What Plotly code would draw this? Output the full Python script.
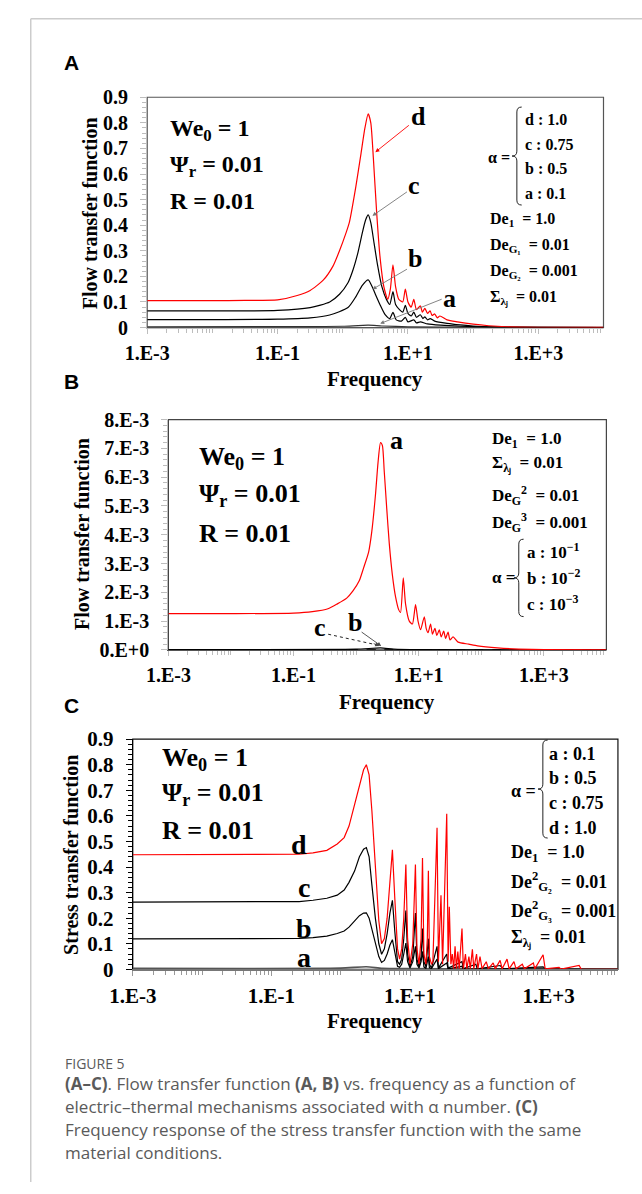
import plotly.graph_objects as go

# ---------------- DATA ----------------
# Panel A: flow transfer function, alpha = 0.1 (a), 0.5 (b), 0.75 (c), 1.0 (d)
A_d_freq = [0.001, 0.01, 0.0316, 0.1, 0.2, 0.316, 0.501, 0.708, 0.891, 1.122, 1.259, 1.585, 1.905, 2.188, 2.455,
            2.692, 2.951, 3.311, 3.715, 4.266, 4.898, 5.370, 5.888, 6.457, 7.244, 8.318, 9.120, 10, 11.22, 12.30,
            13.49, 15.49, 16.60, 18.20, 19.95, 21.88, 23.44, 25.70, 28.18, 30.90, 39.81, 57.54, 100, 173.8, 316.2,
            1000, 10000]
A_d_val = [0.105, 0.105, 0.106, 0.108, 0.125, 0.145, 0.185, 0.24, 0.30, 0.37, 0.41, 0.55, 0.68, 0.78, 0.835,
           0.80, 0.66, 0.45, 0.28, 0.16, 0.11, 0.15, 0.245, 0.16, 0.11, 0.10, 0.15, 0.10, 0.08, 0.11,
           0.07, 0.085, 0.06, 0.075, 0.055, 0.065, 0.047, 0.053, 0.038, 0.045, 0.03, 0.022, 0.013, 0.007, 0.003,
           0.001, 0.0005]
A_c_freq = [0.001, 0.1, 0.316, 0.631, 0.891, 1.202, 1.413, 1.698, 1.995, 2.239, 2.455, 2.692, 3.020, 3.388, 3.981,
            4.677, 5.248, 5.888, 6.457, 7.413, 8.318, 9.120, 10, 11.22, 12.30, 13.49, 15.49, 16.98, 18.20, 19.95,
            21.88, 25.70, 39.81, 63.10, 100, 199.5, 1000, 10000]
A_c_val = [0.065, 0.067, 0.078, 0.10, 0.13, 0.175, 0.22, 0.29, 0.37, 0.42, 0.44, 0.41, 0.33, 0.25, 0.16,
           0.11, 0.09, 0.14, 0.09, 0.07, 0.06, 0.087, 0.055, 0.045, 0.06, 0.04, 0.05, 0.035, 0.042, 0.03,
           0.035, 0.025, 0.016, 0.01, 0.006, 0.003, 0.0008, 0.0003]
A_b_freq = [0.001, 0.1, 0.316, 0.631, 1.202, 1.585, 1.995, 2.455, 2.818, 3.162, 3.715, 4.467, 5.248, 5.888, 6.607,
            7.943, 9.120, 10, 12.30, 13.49, 15.49, 19.95, 31.62, 63.10, 158.5, 1000, 10000]
A_b_val = [0.031, 0.033, 0.038, 0.049, 0.078, 0.12, 0.165, 0.186, 0.16, 0.13, 0.09, 0.05, 0.035, 0.059, 0.03,
           0.025, 0.04, 0.022, 0.03, 0.018, 0.022, 0.014, 0.009, 0.005, 0.002, 0.0005, 0.0002]
A_a_freq = [0.001, 0.316, 1, 2.455, 3.981, 10, 100, 10000]
A_a_val = [0.003, 0.0035, 0.005, 0.009, 0.006, 0.003, 0.001, 0.0]

# Panel B: flow transfer function, alpha = 1e-1 (a), 1e-2 (b), 1e-3 (c)
B_a_freq = [0.001, 0.01, 0.1, 0.2, 0.355, 0.501, 0.708, 0.891, 1.122, 1.318, 1.585, 1.778, 2.042, 2.239, 2.455,
            2.630, 2.818, 3.090, 3.388, 3.802, 4.266, 4.786, 5.129, 5.675, 6.166, 7.079, 7.943, 8.913, 9.772, 10.72,
            12.30, 13.18, 14.13, 15.49, 16.60, 18.20, 19.50, 21.38, 22.91, 25.12, 26.92, 29.51, 31.62, 35.48, 42.66,
            63.10, 87.10, 182.0, 398.1, 1000, 10000]
B_a_val = [1.26e-3, 1.26e-3, 1.28e-3, 1.33e-3, 1.43e-3, 1.6e-3, 1.8e-3, 2.05e-3, 2.4e-3, 2.85e-3, 3.4e-3, 4.1e-3,
           5.4e-3, 6.5e-3, 7.2e-3, 7.1e-3, 6.2e-3, 4.9e-3, 3.7e-3, 2.6e-3, 1.85e-3, 1.4e-3, 1.3e-3, 2.5e-3, 1.6e-3,
           1.0e-3, 0.9e-3, 1.57e-3, 1.0e-3, 0.7e-3, 1.15e-3, 0.75e-3, 0.6e-3, 0.9e-3, 0.55e-3, 0.75e-3, 0.5e-3,
           0.7e-3, 0.45e-3, 0.65e-3, 0.4e-3, 0.62e-3, 0.35e-3, 0.45e-3, 0.27e-3, 0.2e-3, 0.14e-3, 0.07e-3, 0.03e-3,
           0.01e-3, 0.0]
B_b_freq = [0.001, 1, 2.455, 3.981, 10, 10000]
B_b_val = [1.5e-5, 2.5e-5, 7e-5, 3e-5, 1e-5, 0.0]
B_c_freq = [0.001, 2.455, 10000]
B_c_val = [2e-6, 6e-6, 0.0]

# Panel C: stress transfer function, alpha = 0.1 (a), 0.5 (b), 0.75 (c), 1.0 (d)
C_d_freq = [0.001, 0.1, 0.251, 0.398, 0.631, 0.891, 1.122, 1.318, 1.585, 1.862,
            2.138, 2.344, 2.570, 2.818, 3.162, 3.548, 3.890, 4.266, 4.677, 5.129,
            5.572, 6.026, 6.607, 7.079, 7.586, 8.128, 8.710, 9.226, 10.0, 10.96,
            11.97, 12.59, 13.49, 14.45, 15.14, 15.85, 16.98, 17.78, 18.41, 19.05,
            20.42, 21.38, 24.55, 25.70, 27.99, 29.51, 33.88, 35.48, 36.90, 38.90,
            40.74, 42.66, 44.67, 46.77, 48.98, 51.29, 56.23, 58.88, 63.10, 66.07,
            70.79, 74.13, 79.43, 83.18, 91.20, 95.50, 102.3, 109.6, 125.9, 134.9,
            158.5, 169.8, 199.5, 213.8, 251.2, 269.2, 316.2, 338.8, 416.9, 446.7,
            602.6, 631.0, 831.8, 891.3, 1413, 1514, 2754, 2951, 10000]
C_d_val = [0.448, 0.448, 0.45, 0.455, 0.465, 0.49, 0.515, 0.56, 0.64, 0.72,
           0.78, 0.80, 0.76, 0.62, 0.38, 0.19, 0.10, 0.12, 0.2, 0.34,
           0.467, 0.28, 0.08, 0.04, 0.08, 0.2, 0.41, 0.12, 0.02, 0.1,
           0.41, 0.08, 0.02, 0.12, 0.435, 0.06, 0.02, 0.12, 0.385, 0.05,
           0.02, 0.03, 0.553, 0.03, 0.29, 0.02, 0.608, 0.03, 0.245, 0.02,
           0.06, 0.003, 0.09, 0.003, 0.07, 0.003, 0.16, 0.003, 0.06, 0.003,
           0.05, 0.003, 0.078, 0.003, 0.06, 0.003, 0.05, 0.003, 0.03, 0.002,
           0.025, 0.002, 0.035, 0.002, 0.04, 0.002, 0.03, 0.002, 0.02, 0.002,
           0.025, 0.002, 0.057, 0.002, 0.008, 0.001, 0.015, 0.001, 0.0]
C_c_freq = [0.001, 0.1, 0.251, 0.398, 0.631, 0.891, 1.122, 1.318, 1.585, 1.862,
            2.138, 2.344, 2.570, 2.818, 3.162, 3.548, 3.890, 4.266, 4.677, 5.129,
            5.572, 6.026, 6.607, 7.079, 7.586, 8.128, 8.710, 9.226, 10.0, 10.96,
            11.97, 12.59, 13.49, 14.45, 15.14, 15.85, 16.98, 18.41, 19.05, 20.42,
            24.55, 25.70, 33.88, 35.48, 56.23, 58.88, 89.13, 93.33, 199.5, 223.9,
            831.8, 912.0, 10000]
C_c_val = [0.263, 0.263, 0.265, 0.27, 0.278, 0.29, 0.31, 0.34, 0.384, 0.44,
           0.47, 0.476, 0.44, 0.33, 0.2, 0.1, 0.059, 0.08, 0.14, 0.22,
           0.27, 0.15, 0.03, 0.02, 0.04, 0.12, 0.23, 0.06, 0.01, 0.05,
           0.22, 0.04, 0.01, 0.05, 0.16, 0.03, 0.01, 0.12, 0.02, 0.005,
           0.09, 0.005, 0.06, 0.005, 0.03, 0.003, 0.02, 0.002, 0.015, 0.002,
           0.01, 0.001, 0.0]
C_b_freq = [0.001, 0.1, 0.251, 0.398, 0.631, 0.891, 1.122, 1.318, 1.585, 1.862,
            2.138, 2.344, 2.570, 2.818, 3.162, 3.548, 3.890, 4.266, 4.677, 5.129,
            5.572, 6.026, 6.607, 7.079, 7.586, 8.128, 8.710, 9.226, 10.0, 10.96,
            11.97, 12.59, 13.49, 14.45, 15.14, 15.85, 16.98, 18.41, 19.05, 20.42,
            24.55, 25.70, 33.88, 35.48, 56.23, 58.88, 10000]
C_b_val = [0.119, 0.12, 0.121, 0.124, 0.13, 0.14, 0.15, 0.165, 0.19, 0.21,
           0.22, 0.221, 0.2, 0.16, 0.1, 0.05, 0.027, 0.035, 0.06, 0.095,
           0.116, 0.06, 0.012, 0.008, 0.02, 0.06, 0.103, 0.03, 0.005, 0.03,
           0.09, 0.02, 0.005, 0.03, 0.07, 0.01, 0.004, 0.05, 0.006, 0.003,
           0.04, 0.003, 0.025, 0.002, 0.012, 0.001, 0.0]
C_a_freq = [0.001, 1.0, 2.344, 3.981, 10, 100, 10000]
C_a_val = [0.004, 0.005, 0.01, 0.004, 0.003, 0.002, 0.001]

# Tick labels
x_tickvals = [0.001, 0.1, 10, 1000]
x_ticktext = ["1.E-3", "1.E-1", "1.E+1", "1.E+3"]
AC_y_tickvals = [0, 0.1, 0.2, 0.3, 0.4, 0.5, 0.6, 0.7, 0.8, 0.9]
AC_y_ticktext = ["0", "0.1", "0.2", "0.3", "0.4", "0.5", "0.6", "0.7", "0.8", "0.9"]
B_y_tickvals = [0, 0.001, 0.002, 0.003, 0.004, 0.005, 0.006, 0.007, 0.008]
B_y_ticktext = ["0.E+0", "1.E-3", "2.E-3", "3.E-3", "4.E-3", "5.E-3", "6.E-3", "7.E-3", "8.E-3"]

# ---------------- FIGURE ----------------
W, H = 642, 1194
def px(x): return x / W
def py(y): return 1 - y / H

SERIF = "Liberation Serif"
RED = "#ff0000"
BLACK = "#000000"
LGRAY = "#bdbdbd"

fig = go.Figure()

def add(f, v, color, xa, ya, width=1.2, dash=None, shape="spline"):
    fig.add_trace(go.Scatter(x=f, y=v, mode="lines",
                             line=dict(color=color, width=width, dash=dash, shape=shape, smoothing=0.6),
                             xaxis=xa, yaxis=ya, showlegend=False, hoverinfo="skip"))

add(A_a_freq, A_a_val, "#333333", "x", "y")
add(A_b_freq, A_b_val, BLACK, "x", "y")
add(A_c_freq, A_c_val, BLACK, "x", "y")
add(A_d_freq, A_d_val, RED, "x", "y")

add(B_c_freq, B_c_val, BLACK, "x2", "y2", dash="dash")
add(B_b_freq, B_b_val, BLACK, "x2", "y2")
add(B_a_freq, B_a_val, RED, "x2", "y2")

add(C_a_freq, C_a_val, "#555555", "x3", "y3", width=1.6)
add(C_b_freq, C_b_val, BLACK, "x3", "y3", shape="linear")
add(C_c_freq, C_c_val, BLACK, "x3", "y3", shape="linear")
add(C_d_freq, C_d_val, RED, "x3", "y3", shape="linear")

# minor log ticks (positions of 2..9 x decade, plus unlabeled decades)
minor_x = []
for e in range(-3, 4):
    for m in range(1, 10):
        val = m * 10.0 ** e
        if m == 1 and val in x_tickvals:
            continue
        minor_x.append(val)

def xaxis_cfg(domain, anchor, linecolor, tickcolor, fsize):
    return dict(type="log", range=[-3, 4], domain=domain, anchor=anchor,
                tickmode="array", tickvals=x_tickvals, ticktext=x_ticktext,
                ticks="outside", ticklen=5, tickcolor=tickcolor, tickwidth=1,
                minor=dict(tickmode="array", tickvals=minor_x, ticks="outside", ticklen=4,
                           tickcolor=tickcolor, tickwidth=1, showgrid=False),
                showline=True, linecolor=linecolor, linewidth=1.2, mirror=False,
                showgrid=False, zeroline=False, ticklabelstandoff=2,
                tickfont=dict(family=SERIF, size=fsize, color="black", weight="bold"))

def yaxis_cfg(domain, anchor, rng, tv, tt, minor_dt, linecolor, tickcolor, fsize):
    return dict(range=rng, domain=domain, anchor=anchor,
                tickmode="array", tickvals=tv, ticktext=tt,
                ticks="outside", ticklen=6, tickcolor=tickcolor, tickwidth=1,
                minor=dict(dtick=minor_dt, ticks="outside", ticklen=4, tickcolor=tickcolor,
                           tickwidth=1, showgrid=False),
                showline=True, linecolor=linecolor, linewidth=1.2, mirror=False,
                showgrid=False, zeroline=False, ticklabelstandoff=8,
                tickfont=dict(family=SERIF, size=fsize, color="black", weight="bold"))

A_dom_x = [px(128), px(602)]; A_dom_y = [py(322), py(87)]
B_dom_x = [px(150), px(605)]; B_dom_y = [py(651), py(416)]
C_dom_x = [px(113), px(617)]; C_dom_y = [py(977), py(742)]

fig.update_layout(
    width=W, height=H, margin=dict(l=0, r=0, t=0, b=0),
    paper_bgcolor="white", plot_bgcolor="white",
    xaxis=xaxis_cfg(A_dom_x, "y", LGRAY, LGRAY, 20),
    yaxis=yaxis_cfg(A_dom_y, "x", [0, 0.9], AC_y_tickvals, AC_y_ticktext, 0.02, LGRAY, LGRAY, 20),
    xaxis2=xaxis_cfg(B_dom_x, "y2", "#555555", LGRAY, 20),
    yaxis2=yaxis_cfg(B_dom_y, "x2", [0, 0.008], B_y_tickvals, B_y_ticktext, 0.0002, LGRAY, LGRAY, 20),
    xaxis3=xaxis_cfg(C_dom_x, "y3", "#777777", "#999999", 21),
    yaxis3=yaxis_cfg(C_dom_y, "x3", [0, 0.9], AC_y_tickvals, AC_y_ticktext, 0.02, BLACK, BLACK, 21),
)

shapes = []
# plot frames
for xr, yr, col in [("x domain", "y domain", "#555555"), ("x2 domain", "y2 domain", "#444444"),
                    ("x3 domain", "y3 domain", "#111111")]:
    shapes.append(dict(type="rect", xref=xr, yref=yr, x0=0, x1=1, y0=0, y1=1,
                       line=dict(color=col, width=1.2), layer="below"))
# page border (left + top)
shapes.append(dict(type="line", xref="paper", yref="paper", x0=px(7), x1=px(7), y0=0, y1=py(7),
                   line=dict(color="#cccccc", width=1.5)))
shapes.append(dict(type="line", xref="paper", yref="paper", x0=px(7), x1=1, y0=py(7), y1=py(7),
                   line=dict(color="#cccccc", width=1.5)))

def brace(bx, y0, y1, w=5, r=5):
    ym = (y0 + y1) / 2
    pts = [("M", [(bx + w, y0)]), ("Q", [(bx, y0), (bx, y0 + r)]), ("L", [(bx, ym - r)]),
           ("Q", [(bx, ym), (bx - w, ym)]), ("Q", [(bx, ym), (bx, ym + r)]), ("L", [(bx, y1 - r)]),
           ("Q", [(bx, y1), (bx + w, y1)])]
    path = ""
    for cmd, ps in pts:
        path += cmd + " " + " ".join(f"{px(a):.5f},{py(b):.5f}" for a, b in ps) + " "
    return dict(type="path", xref="paper", yref="paper", path=path.strip(),
                line=dict(color="#222222", width=1))

shapes.append(brace(512, 97, 197))
shapes.append(brace(514, 538, 617))
shapes.append(brace(539, 743, 843))
# dashed leader line for label c in panel B
shapes.append(dict(type="line", xref="paper", yref="paper", x0=px(316), y0=py(635), x1=px(367), y1=py(646),
                   line=dict(color="#222222", width=1, dash="dot")))
fig.update_layout(shapes=shapes)

ann = []
def text(x, y, s, size, anchor="left", family=SERIF, bold=True, color="black", angle=0):
    ann.append(dict(x=px(x), y=py(y), xref="paper", yref="paper", text=s, showarrow=False,
                    xanchor=anchor, yanchor="middle", textangle=angle,
                    font=dict(family=family, size=size, color=color, weight="bold" if bold else "normal")))

def arrow(tx, ty, hx, hy, color):
    ann.append(dict(x=px(hx), y=py(hy), xref="paper", yref="paper", ax=tx - hx, ay=ty - hy,
                    text="", showarrow=True, arrowhead=2, arrowsize=0.9, arrowwidth=0.9,
                    arrowcolor=color))

# panel letters
for lab, y in [("A", 52), ("B", 377), ("C", 708)]:
    text(49, y, lab, 21, anchor="center", family="Liberation Sans")

# axis titles
text(68, 205, "Flow transfer function", 20, anchor="center", angle=-90)
text(365, 375, "Frequency", 21, anchor="center")
text(61, 533, "Flow transfer function", 20, anchor="center", angle=-90)
text(377, 704, "Frequency", 21, anchor="center")
text(49, 860, "Stress transfer function", 20, anchor="center", angle=-90)
text(365, 1030, "Frequency", 21, anchor="center")

# parameter blocks
for x0, ys, fs in [(150, (120, 157, 193), 24), (180, (455, 493, 532), 26), (141, (762, 798, 835), 26)]:
    text(x0, ys[0], "We<sub>0</sub> = 1", fs)
    text(x0, ys[1], "Ψ<sub>r</sub> = 0.01", fs)
    text(x0, ys[2], "R = 0.01", fs)

# legend block A
text(480, 148, "α =", 16)
for s, y in [("d : 1.0", 110), ("c : 0.75", 135), ("b : 0.5", 160), ("a : 0.1", 185)]:
    text(518, y, s, 16)
text(482, 212, "De<sub>1</sub>  = 1.0", 16)
text(482, 238, "De<sub>G₁</sub>  = 0.01", 16)
text(482, 265, "De<sub>G₂</sub>  = 0.001", 16)
text(482, 292, "Σ<sub>λⱼ</sub>  = 0.01", 16)

# legend block B
text(484, 437, "De<sub>1</sub>  = 1.0", 17)
text(484, 462, "Σ<sub>λⱼ</sub>  = 0.01", 17)
text(484, 493, "De<sub>G</sub><sup>2</sup>  = 0.01", 17)
text(484, 521, "De<sub>G</sub><sup>3</sup>  = 0.001", 17)
text(484, 577, "α =", 17)
for s, y in [("a : 10<sup>−1</sup>", 550), ("b : 10<sup>−2</sup>", 577), ("c : 10<sup>−3</sup>", 603)]:
    text(520, y, s, 17)

# legend block C
text(504, 795, "α =", 18)
for s, y in [("a : 0.1", 757), ("b : 0.5", 782), ("c : 0.75", 807), ("d : 1.0", 833)]:
    text(543, y, s, 18)
text(504, 859, "De<sub>1</sub>  = 1.0", 18)
text(504, 887, "De<sup>2</sup><sub>G₂</sub>  = 0.01", 18)
text(504, 917, "De<sup>2</sup><sub>G₃</sub>  = 0.001", 18)
text(504, 946, "Σ<sub>λⱼ</sub>  = 0.01", 18)

# curve labels
for s, x, y in [("d", 410, 107), ("c", 405, 177), ("b", 406, 252), ("a", 442, 292)]:
    text(x, y, s, 26, anchor="center")
arrow(400, 115, 365, 143, RED)
arrow(398, 183, 362, 208, "#777777")
arrow(398, 262, 362, 283, "#777777")
arrow(433, 293, 370, 318, "#777777")

for s, x, y in [("a", 387, 437), ("b", 344, 623), ("c", 307, 628)]:
    text(x, y, s, 26, anchor="center")
arrow(350, 632, 371, 647, "#444444")
arrow(362, 644, 369, 647, "#444444")

for s, x, y in [("d", 286, 850), ("c", 291, 893), ("b", 291, 935), ("a", 291, 965)]:
    text(x, y, s, 28, anchor="center")

# caption
CAP = "Open Sans"
CAPC = "#5a5a5a"
text(40, 1073, "FIGURE 5", 14, family=CAP, bold=False, color=CAPC)
cap_lines = [
    "<b>(A–C)</b>. Flow transfer function <b>(A, B)</b> vs. frequency as a function of",
    "electric–thermal mechanisms associated with α number. <b>(C)</b>",
    "Frequency response of the stress transfer function with the same",
    "material conditions.",
]
for i, line in enumerate(cap_lines):
    text(40, 1093 + i * 23.5, line, 17, family=CAP, bold=False, color=CAPC)

fig.update_layout(annotations=ann)
fig.write_html("out.html",
               config={"displayModeBar": False, "staticPlot": True},
               post_script="document.body.style.margin='0';document.body.style.overflow='hidden';")
